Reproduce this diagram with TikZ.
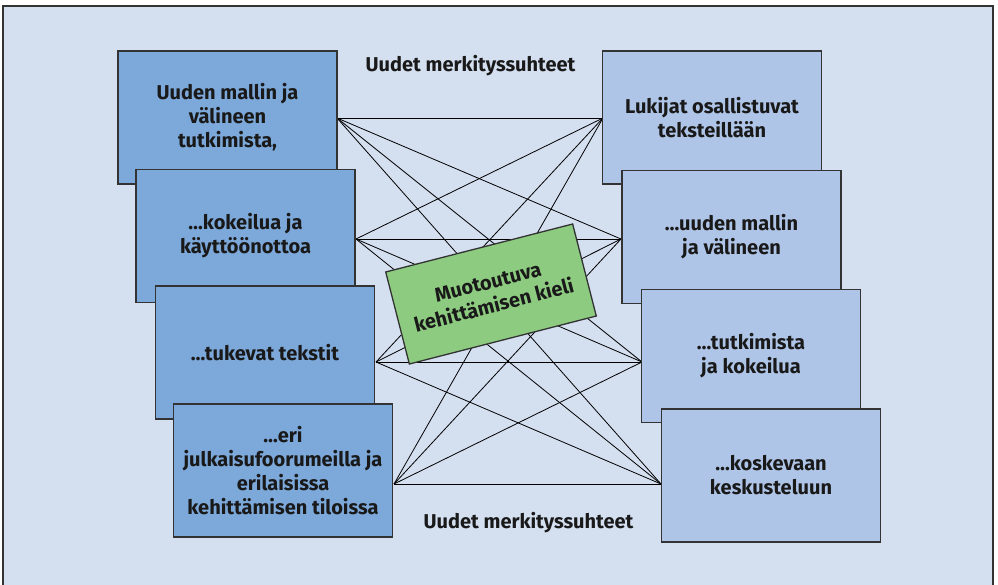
\documentclass[tikz,border=0pt]{standalone}
\usepackage{fontspec}
\setmainfont{Fira Sans}
\begin{document}
\begin{tikzpicture}[x=1pt,y=-1pt,
  every node/.style={font=\bfseries\fontsize{20}{24}\selectfont, align=center, text=black!90},
  panel/.style={draw=black!80, line width=1.3pt, minimum width=219pt, minimum height=133pt, inner sep=0pt},
  leftbox/.style={panel, fill=leftblue},
  rightbox/.style={panel, fill=rightblue},
  link/.style={draw=black, line width=0.8pt},
  caption/.style={inner sep=0pt, anchor=base}]
\definecolor{bgblue}{HTML}{D4DFF0}
\definecolor{leftblue}{HTML}{7CA8DA}
\definecolor{rightblue}{HTML}{AFC5E7}
\definecolor{greenbox}{HTML}{8DCB80}
\useasboundingbox (0,0) rectangle (998,584);
% outer panel
\fill[white] (0,0) rectangle (998,584);
\draw[fill=bgblue, draw=black!80, line width=2pt] (3,6) rectangle (993,600);

% connection points on the box edges
\coordinate (l1) at (337,118);
\coordinate (l2) at (356,239);
\coordinate (l3) at (376,362);
\coordinate (l4) at (394,484);
\coordinate (r1) at (603,118);
\coordinate (r2) at (621,239);
\coordinate (r3) at (642,362);
\coordinate (r4) at (661,484);

% every left point joined to every right point
\foreach \a in {l1,l2,l3,l4}
  \foreach \b in {r1,r2,r3,r4}
    \draw[link] (\a) -- (\b);

% left stack
\node[leftbox] (L1) at (227.5,117.5) {Uuden mallin ja\\välineen\\tutkimista,};
\node[leftbox] (L2) at (245.5,236) {…kokeilua ja\\käyttöönottoa};
\node[leftbox] (L3) at (265,352.5) {…tukevat tekstit};
\node[leftbox] (L4) at (283,470.5) {…eri\\julkaisufoorumeilla ja\\erilaisissa\\kehittämisen tiloissa};

% right stack
\node[rightbox] (R1) at (712,117.5) {Lukijat osallistuvat\\teksteillään};
\node[rightbox] (R2) at (731.5,237) {…uuden mallin\\ja välineen};
\node[rightbox] (R3) at (751,356) {…tutkimista\\ja kokeilua};
\node[rightbox] (R4) at (771,475.5) {…koskevaan\\keskusteluun};

% centre label
\node[draw=black!80, line width=1.3pt, fill=greenbox, minimum width=193pt, minimum height=95pt, inner sep=0pt, rotate=14.4] (C) at (491,294) {Muotoutuva\\kehittämisen kieli};

% captions
\node[caption] (T) at (470.5,71.5) {Uudet merkityssuhteet};
\node[caption] (B) at (528.5,528.5) {Uudet merkityssuhteet};
\end{tikzpicture}
\end{document}
